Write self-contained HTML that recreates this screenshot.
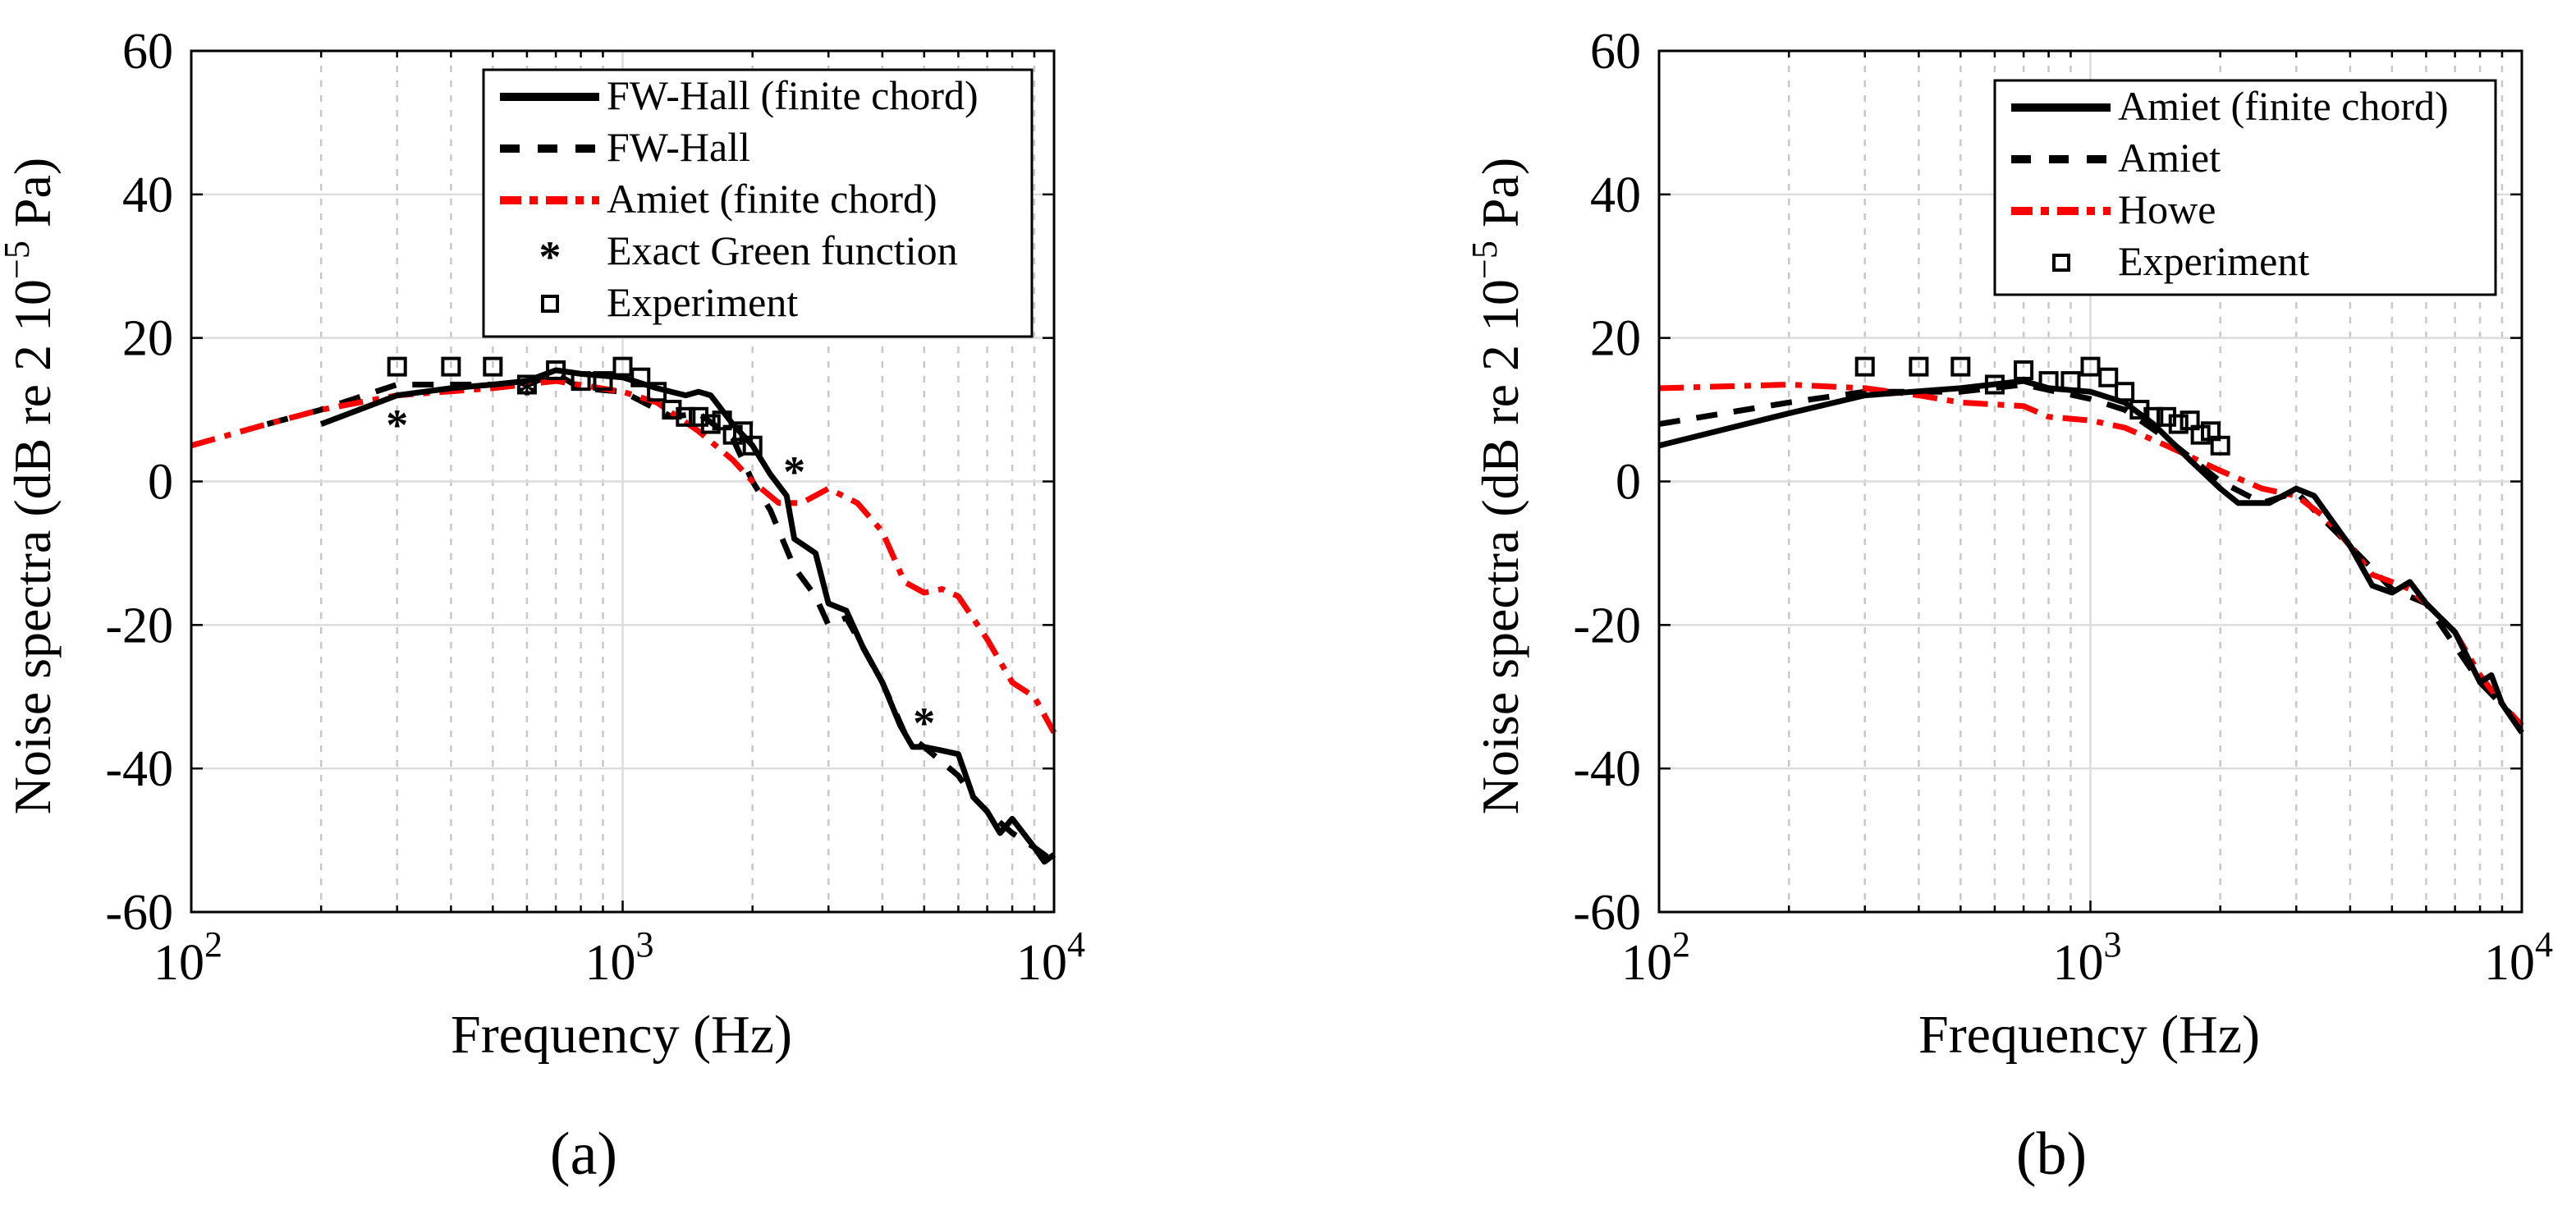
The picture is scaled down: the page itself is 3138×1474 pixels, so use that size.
<!DOCTYPE html>
<html><head><meta charset="utf-8">
<style>
html,body{margin:0;padding:0;background:#fff;}
svg{display:block;}
svg text{font-family:"Liberation Serif","DejaVu Serif",serif;fill:#000;}
</style></head>
<body>
<svg id="fig" width="3138" height="1474" viewBox="0 0 3138 1474" xmlns="http://www.w3.org/2000/svg" font-family="'Liberation Serif','DejaVu Serif',serif"></svg>
<script>
// ---------- Data: panel (a) ----------
const aFwFinF=[200,300,400,500,600,700,800,1000,1200,1400,1500,1600,1800,2000,2200,2400,2500,2800,3000,3300,3600,4000,4400,4700,5000,5500,6000,6500,7000,7500,8000,9000,9500,10000];
const aFwFinV=[8,12,13,13.5,14,15.5,15,14.5,13,12,12.5,12,8,5,1,-2,-8,-10,-17,-18,-23,-28,-34,-37,-37,-37.5,-38,-44,-46,-49,-47,-51,-53,-52];
const aFwF=[150,200,300,400,500,600,700,800,1000,1300,1500,1800,2000,2200,2500,2800,3000,3300,4000,4500,5000,6000,6500,7000,8000,9000,10000];
const aFwV=[8,10,13.5,13.5,13.5,13.5,15,13,12.5,9,9.5,6,0,-4,-12,-16,-20,-19,-28,-35,-37,-41,-44,-46,-49,-51,-53];
const aAmF=[100,150,200,300,500,700,1000,1200,1500,1800,2000,2300,2600,3000,3500,4000,4500,5000,5500,6000,7000,8000,9000,10000];
const aAmV=[5,8,10,12,13,14,12.5,11,7,3,0,-3,-3,-1,-3,-7,-14,-15.5,-15,-16,-22,-28,-30,-35];
const aGreenF=[300,600,2500,5000];
const aGreenV=[8.5,13,2,-33];
const expF=[300,400,500,600,700,800,900,1000,1100,1200,1300,1400,1500,1600,1700,1800,1900,2000];
const expV=[16,16,16,13.5,15.5,14,14,16,14.5,12.5,10,9,9,8,8.5,6.5,7,5];
// ---------- Data: panel (b) ----------
const bAmFinF=[100,200,300,500,700,800,1000,1200,1400,1700,2000,2200,2600,3000,3300,4000,4500,5000,5500,6000,7000,8000,8500,9000,10000];
const bAmFinV=[5,9.5,12,13,14,13,12.5,11,8,3,-1,-3,-3,-1,-2,-9,-14.5,-15.5,-14,-17,-21,-28,-27,-31,-35];
const bAmF=[100,200,300,500,700,1000,1200,1500,2000,2500,3000,4000,5000,6000,8000,10000];
const bAmV=[8,11,12.5,12.5,13.5,11.5,10,6,0,-3,-1.5,-9,-15,-17,-28,-34];
const bHoweF=[100,200,300,400,500,700,800,1000,1200,1500,2000,2500,3000,3500,4000,4500,5000,5500,6000,7000,8000,9000,10000];
const bHoweV=[13,13.5,13,12,11,10.5,9,8.5,7.5,5,1.5,-1,-2,-5,-9,-13,-14,-15,-17,-21,-27,-31,-34];
const yTicks=[-60,-40,-20,0,20,40,60];
const xDecades=[2,3,4];

const NS="http://www.w3.org/2000/svg";
const svg=document.getElementById('fig');
const FF="'Liberation Serif','DejaVu Serif',serif";
function mk(tag,attrs,parent){const e=document.createElementNS(NS,tag);if(tag==='text')e.setAttribute('font-family',FF);for(const k in attrs)e.setAttribute(k,attrs[k]);(parent||svg).appendChild(e);return e;}

function panel(px,name,series,markers,legend,lg,label,capX){
  const L=px,R=px+1051,T=62,B=1111;
  const sx=f=>L+(Math.log10(f)-2)/2*(R-L);
  const sy=v=>B-(v+60)/120*(B-T);
  const g=mk('g',{});
  
  
  for(let d=2;d<4;d++)for(let m=2;m<=9;m++){
    const x=sx(m*Math.pow(10,d));
    const l=mk('line',{x1:x,x2:x,y1:T,y2:B,stroke:'#c8c8c8','stroke-width':2.5,'stroke-dasharray':'8 10'},g);
    
    
    mk('line',{x1:x,x2:x,y1:B,y2:B-8,stroke:'#000','stroke-width':2.5},g);
    mk('line',{x1:x,x2:x,y1:T,y2:T+8,stroke:'#000','stroke-width':2.5},g);
  }
  xDecades.forEach(d=>{const x=sx(Math.pow(10,d));
    const l=mk('line',{x1:x,x2:x,y1:T,y2:B,stroke:'#dcdcdc','stroke-width':2.5},g);
    
    
    mk('line',{x1:x,x2:x,y1:B,y2:B-14,stroke:'#000','stroke-width':2.5},g);
    const t=mk('text',{x:x-4,y:1193,'font-size':62,'text-anchor':'middle'},g);
    
    
    t.textContent='10';
    const s=mk('tspan',{dy:-28,'font-size':44},t);s.textContent=String(d);
  });
  yTicks.forEach(v=>{const y=sy(v);
    const l=mk('line',{x1:L,x2:R,y1:y,y2:y,stroke:'#dcdcdc','stroke-width':2.5},g);
    
    
    mk('line',{x1:L,x2:L+14,y1:y,y2:y,stroke:'#000','stroke-width':2.5},g);
    mk('line',{x1:R,x2:R-14,y1:y,y2:y,stroke:'#000','stroke-width':2.5},g);
    const t=mk('text',{x:L-22,y:y+21,'font-size':62,'text-anchor':'end'},g);
    
    
    t.textContent=String(v);
  });
  series.forEach(s=>{
    const d=s.f.map((f,i)=>(i?'L':'M')+sx(f).toFixed(1)+' '+sy(s.v[i]).toFixed(1)).join(' ');
    const p=mk('path',{d:d,fill:'none',stroke:s.c,'stroke-width':7,'stroke-linejoin':'round','stroke-dasharray':s.da||'none'},g);
    
    
  });
  markers.forEach(m=>{
    m.f.forEach((f,i)=>{const x=sx(f),y=sy(m.v[i]);
      if(m.t==='sq'){const r=mk('rect',{x:x-10,y:y-10,width:20,height:20,fill:'none',stroke:'#000','stroke-width':4},g);
        
        }
      else{const t=mk('text',{x:x,y:y+24,'font-size':54,'text-anchor':'middle','font-weight':'bold'},g);
        
        
        t.textContent='*';}
    });
  });
  const fr=mk('rect',{x:L,y:T,width:R-L,height:B-T,fill:'none',stroke:'#000','stroke-width':3},g);
  
  
  const lgG=mk('g',{},g);
  
  
  mk('rect',{x:lg.x,y:lg.y,width:lg.w,height:lg.h,fill:'#fff',stroke:'#000','stroke-width':3},lgG);
  legend.forEach((e,i)=>{const by=lg.y+48+i*63;const cy=by-15;
    if(e.t==='line'){mk('line',{x1:lg.x+20,x2:lg.x+141,y1:cy,y2:cy,stroke:e.c,'stroke-width':10,'stroke-dasharray':e.da||'none'},lgG);}
    else if(e.t==='sq'){mk('rect',{x:lg.x+72,y:cy-9,width:18,height:18,fill:'none',stroke:'#000','stroke-width':4},lgG);}
    else{const t=mk('text',{x:lg.x+81,y:cy+24,'font-size':54,'text-anchor':'middle','font-weight':'bold'},lgG);t.textContent='*';}
    const t=mk('text',{x:lg.x+150,y:by,'font-size':50},lgG);
    
    
    t.textContent=e.l;
  });
  const xl=mk('text',{x:capX,y:1282,'font-size':66,'text-anchor':'middle'},g);
  
  
  xl.textContent='Frequency (Hz)';
  const yx=L-172, yc=592;
  const yl=mk('text',{x:yx,y:yc,'font-size':64,'text-anchor':'middle',transform:`rotate(-90 ${yx} ${yc})`},g);
  
  
  yl.textContent='Noise spectra (dB re 2 10';
  const sup=mk('tspan',{dy:-26,'font-size':44},yl);sup.textContent='\u22125';
  const rest=mk('tspan',{dy:26},yl);rest.textContent=' Pa)';
  const cap=mk('text',{x:capX-46,y:1430,'font-size':74,'text-anchor':'middle'},g);
  
  
  cap.textContent=label;
}
const DASH='26 20', DD='30 12 8 12';
panel(233,'panel-a',[
  {f:aFwF,v:aFwV,c:'#000',da:DASH,n:'fw-hall-line'},
  {f:aAmF,v:aAmV,c:'#ff0000',da:DD,n:'amiet-finite-line'},
  {f:aFwFinF,v:aFwFinV,c:'#000',n:'fw-hall-finite-line'}
],[{f:expF,v:expV,t:'sq'},{f:aGreenF,v:aGreenV,t:'star'}],
[{t:'line',c:'#000',l:'FW-Hall (finite chord)'},{t:'line',c:'#000',da:'24 22',l:'FW-Hall'},{t:'line',c:'#ff0000',da:'26 10 10 10',l:'Amiet (finite chord)'},{t:'star',l:'Exact Green function'},{t:'sq',l:'Experiment'}],
{x:589,y:85,w:668,h:325},'(a)',757);
panel(2021,'panel-b',[
  {f:bAmF,v:bAmV,c:'#000',da:DASH,n:'amiet-line'},
  {f:bHoweF,v:bHoweV,c:'#ff0000',da:DD,n:'howe-line'},
  {f:bAmFinF,v:bAmFinV,c:'#000',n:'amiet-finite-line'}
],[{f:expF,v:expV,t:'sq'}],
[{t:'line',c:'#000',l:'Amiet (finite chord)'},{t:'line',c:'#000',da:'24 22',l:'Amiet'},{t:'line',c:'#ff0000',da:'26 10 10 10',l:'Howe'},{t:'sq',l:'Experiment'}],
{x:2430,y:98,w:610,h:261},'(b)',2545);
</script>
</body></html>
